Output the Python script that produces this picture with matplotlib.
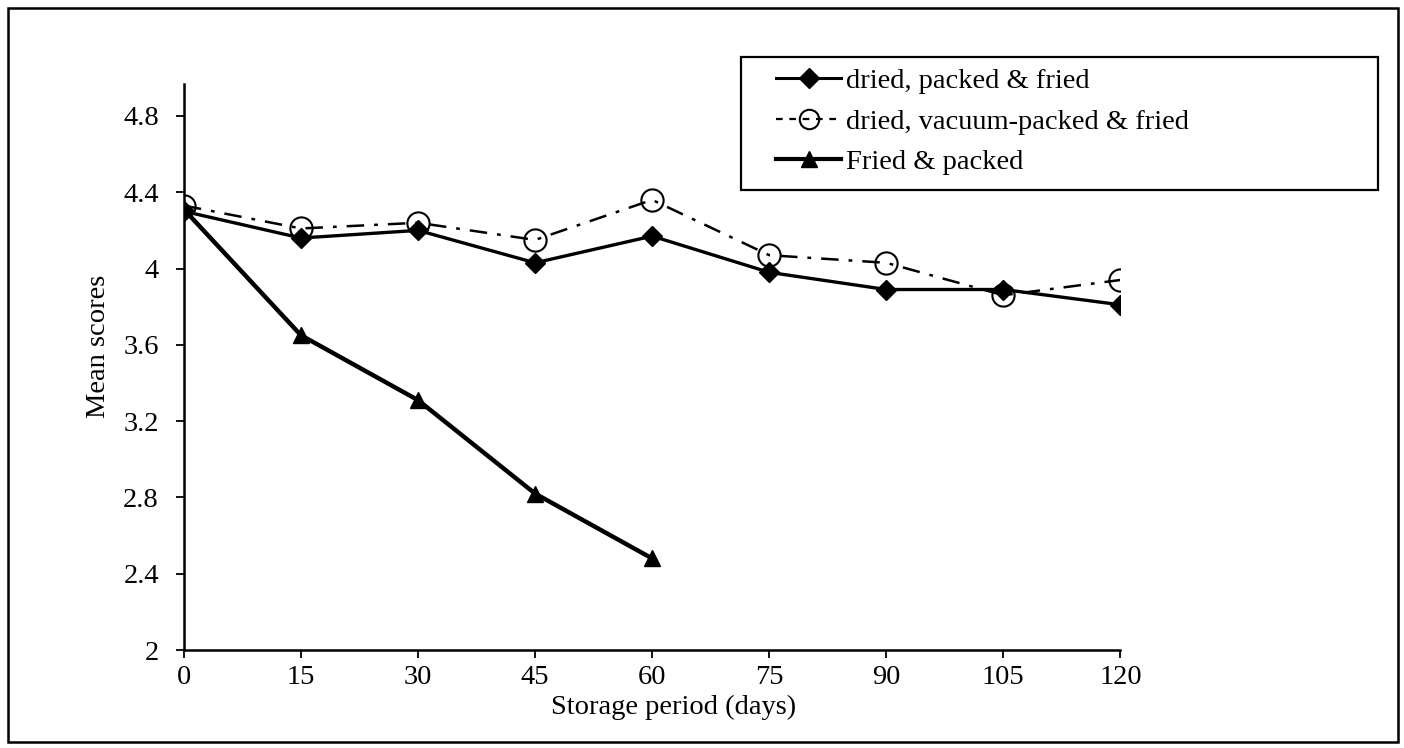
import matplotlib
matplotlib.use("Agg")
import matplotlib.pyplot as plt
from matplotlib.patches import Rectangle
from matplotlib.lines import Line2D

days = [0, 15, 30, 45, 60, 75, 90, 105, 120]
dried_packed_fried = [4.30, 4.16, 4.20, 4.03, 4.17, 3.98, 3.89, 3.89, 3.81]
dried_vacuum_fried = [4.33, 4.21, 4.24, 4.15, 4.36, 4.07, 4.03, 3.86, 3.94]
fried_days = [0, 15, 30, 45, 60]
fried_packed = [4.31, 3.65, 3.31, 2.82, 2.48]
yticks = [2, 2.4, 2.8, 3.2, 3.6, 4, 4.4, 4.8]
ytick_labels = ["2", "2.4", "2.8", "3.2", "3.6", "4", "4.4", "4.8"]
labels = ["dried, packed & fried", "dried, vacuum-packed & fried", "Fried & packed"]

plt.rcParams['font.family'] = ['Liberation Serif', 'DejaVu Serif']
FS = 20.5

fig = plt.figure(figsize=(14.04, 7.48), dpi=100)
ax = fig.add_axes([0.131, 0.131, 0.667, 0.765])

ax.plot(days, dried_vacuum_fried, color='black', lw=1.8, linestyle=(0, (7, 4, 1.5, 4)),
        marker='o', markersize=16, markerfacecolor='none', markeredgecolor='black',
        markeredgewidth=1.5, zorder=2)
ax.plot(days, dried_packed_fried, color='black', lw=2.4, linestyle='-',
        marker='D', markersize=10, markerfacecolor='black', markeredgecolor='black', zorder=3)
ax.plot(fried_days, fried_packed, color='black', lw=3.2, linestyle='-',
        marker='^', markersize=12, markerfacecolor='black', markeredgecolor='black', zorder=3)

ax.set_xlim(0, 120)
ax.set_ylim(2, 5.0)
ax.set_xticks(days)
ax.set_xticklabels([str(d) for d in days])
ax.set_yticks(yticks)
ax.set_yticklabels(ytick_labels)
ax.tick_params(axis='y', direction='out', length=6, width=1.3, labelsize=FS, pad=12)
ax.tick_params(axis='x', direction='out', length=6, width=1.3, labelsize=FS, pad=5)
for s in ['top', 'right']:
    ax.spines[s].set_visible(False)
for s in ['left', 'bottom']:
    ax.spines[s].set_linewidth(1.8)
ax.spines['left'].set_bounds(2, 4.97)

ax.set_xlabel("Storage period (days)", fontsize=FS)
ax.xaxis.set_label_coords(0.523, -0.078)
ax.set_ylabel("Mean scores", fontsize=FS)
ax.yaxis.set_label_coords(-0.078, 0.53)

handles = [
    Line2D([], [], color='black', lw=2.2, marker='D', markersize=10),
    Line2D([], [], color='black', lw=1.6, linestyle=(0, (3, 3)), marker='o', markersize=14,
           markerfacecolor='none', markeredgewidth=1.5),
    Line2D([], [], color='black', lw=3, marker='^', markersize=11),
]
leg = fig.legend(handles, labels, loc='upper left', bbox_to_anchor=(776/1404, 1-68/748),
                 bbox_transform=fig.transFigure, frameon=False,
                 fontsize=FS, handlelength=2.3, handletextpad=0.15,
                 borderpad=0.0, labelspacing=0.52, borderaxespad=0)

fig.patches.append(Rectangle((741/1404, 1-190/748), 637/1404, 133/748, transform=fig.transFigure,
                             fill=False, edgecolor='black', lw=1.6))
fig.patches.append(Rectangle((8/1404, 6/748), 1390/1404, 734/748, transform=fig.transFigure,
                             fill=False, edgecolor='black', lw=1.8))

fig.savefig("out.png", dpi=100)
